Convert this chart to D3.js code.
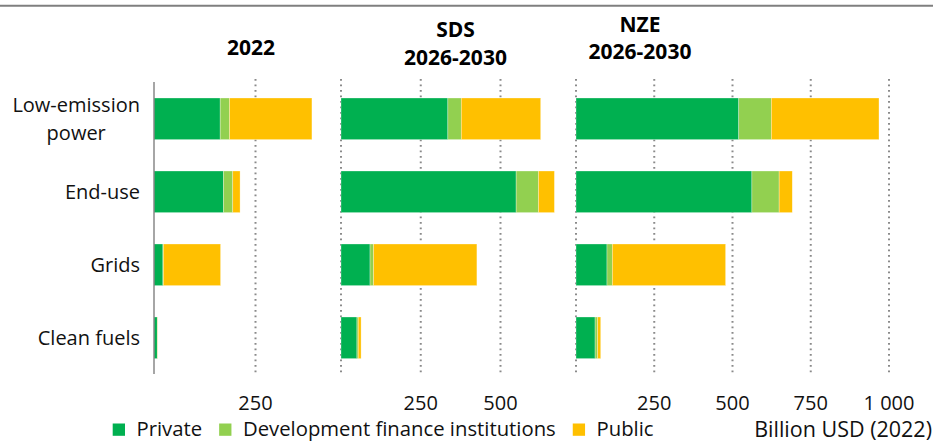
<!DOCTYPE html>
<html>
<head>
<meta charset="utf-8">
<script src="https://cdn.jsdelivr.net/npm/d3@7"></script>
<style>
  html, body { margin: 0; padding: 0; background: #fff; }
  svg { display: block; font-family: "Open Sans", sans-serif; }
</style>
</head>
<body>
<svg id="chart" width="933" height="444"></svg>
<script>
// categories (top to bottom)
const categories = ["Low-emission power", "End-use", "Grids", "Clean fuels"];
const categoryLines = [["Low-emission", "power"], ["End-use"], ["Grids"], ["Clean fuels"]];

// series
const seriesNames = ["Private", "Development finance institutions", "Public"];
const seriesColors = ["#00b050", "#92d050", "#ffc000"];

// scenario titles
const panelTitles = [["2022"], ["SDS", "2026-2030"], ["NZE", "2026-2030"]];

// billion USD (2022)
const private2022 = [163, 171, 22, 8];
const dfi2022     = [23, 23, 1, 0.5];
const public2022  = [203, 18, 141, 0.5];

const privateSDS = [335, 549, 91, 50];
const dfiSDS     = [42, 70, 11, 4];
const publicSDS  = [249, 50, 324, 9];

const privateNZE = [520, 562, 99, 61];
const dfiNZE     = [104, 87, 17, 8];
const publicNZE  = [344, 42, 362, 10];

// axis maxima and tick labels
const axisMax = [450, 700, 1100];
const ticks2022 = [250];
const ticksSDS = [250, 500];
const ticksNZE = [250, 500, 750, 1000];

const unitLabel = "Billion USD (2022)";

// build the panel tables
const panelValues = [
  [private2022, dfi2022, public2022],
  [privateSDS, dfiSDS, publicSDS],
  [privateNZE, dfiNZE, publicNZE]
];
const panelTicks = [ticks2022, ticksSDS, ticksNZE];

// layout of each panel (pixels)
const layout = [
  { x0: 154, x1: 336.7, titleX: 251, titleY: [55] },
  { x0: 341, x1: 564.3, titleX: 455.5, titleY: [37, 65] },
  { x0: 576, x1: 920.3, titleX: 640, titleY: [32, 59] }
];

const svg = d3.select("#chart");
const fmt = d3.formatLocale({ decimal: ".", thousands: " ", grouping: [3], currency: ["", ""] }).format(",d");

// top rule
svg.append("line")
  .attr("x1", 0).attr("x2", 933).attr("y1", 5.7).attr("y2", 5.7)
  .attr("stroke", "#7f7f7f").attr("stroke-width", 2);

const y = d3.scaleBand()
  .domain(categories)
  .range([82.3, 374.3])
  .paddingInner(0.43)
  .paddingOuter(0.215);

const stack = d3.stack().keys([0, 1, 2]);

panelValues.forEach((vals, p) => {
  const L = layout[p];
  const x = d3.scaleLinear().domain([0, axisMax[p]]).range([L.x0, L.x1]);
  const g = svg.append("g");

  // dotted gridlines (zero line dotted for 2nd and 3rd panels)
  const gridVals = p === 0 ? panelTicks[p] : [0].concat(panelTicks[p]);
  g.selectAll("line.grid")
    .data(gridVals)
    .enter().append("line")
    .attr("class", "grid")
    .attr("x1", d => x(d)).attr("x2", d => x(d))
    .attr("y1", 79).attr("y2", 374)
    .attr("stroke", "#8a8a8a")
    .attr("stroke-width", 2)
    .attr("stroke-dasharray", "1.8,3.7");

  // stacked bars
  const rows = categories.map((c, i) => ({ cat: c, 0: vals[0][i], 1: vals[1][i], 2: vals[2][i] }));
  const layers = stack(rows);
  g.selectAll("g.layer")
    .data(layers)
    .enter().append("g")
    .attr("fill", d => seriesColors[d.key])
    .selectAll("rect")
    .data(d => d)
    .enter().append("rect")
    .attr("x", d => x(d[0]))
    .attr("width", d => Math.max(0, x(d[1]) - x(d[0])))
    .attr("y", d => y(d.data.cat))
    .attr("height", y.bandwidth())
    .attr("stroke", "#ffffff")
    .attr("stroke-opacity", 0.5)
    .attr("stroke-width", 0.6);

  // tick labels
  g.selectAll("text.tick")
    .data(panelTicks[p])
    .enter().append("text")
    .attr("class", "tick")
    .attr("x", d => x(d))
    .attr("y", 410)
    .attr("text-anchor", "middle")
    .attr("font-size", 20)
    .attr("fill", "#111")
    .text(d => fmt(d));

  // panel title
  g.selectAll("text.title")
    .data(panelTitles[p])
    .enter().append("text")
    .attr("class", "title")
    .attr("x", L.titleX)
    .attr("y", (d, i) => L.titleY[i])
    .attr("text-anchor", "middle")
    .attr("font-size", 21)
    .attr("font-weight", "bold")
    .attr("fill", "#000")
    .text(d => d);

  // solid category axis on first panel
  if (p === 0) {
    g.append("line")
      .attr("x1", x(0)).attr("x2", x(0))
      .attr("y1", 82).attr("y2", 374)
      .attr("stroke", "#808080").attr("stroke-width", 1.4);
  }
});

// category labels, right aligned block, lines centred within it
const labelRight = 140;
categoryLines.forEach((lines, i) => {
  const c = y(categories[i]) + y.bandwidth() / 2;
  const texts = lines.map((t, j) => svg.append("text")
    .attr("font-size", 20)
    .attr("fill", "#111")
    .attr("y", c + 7 + (j - (lines.length - 1) / 2) * 28)
    .text(t));
  const w = d3.max(texts, t => t.node().getComputedTextLength());
  texts.forEach(t => t.attr("x", labelRight - w / 2).attr("text-anchor", "middle"));
});

// legend
let lx = 112.7;
seriesNames.forEach((name, i) => {
  svg.append("rect")
    .attr("x", lx).attr("y", 423.5)
    .attr("width", 12.3).attr("height", 12.3)
    .attr("fill", seriesColors[i]);
  const t = svg.append("text")
    .attr("x", lx + 23.8).attr("y", 436)
    .attr("font-size", 20.3)
    .attr("fill", "#111")
    .text(name);
  lx += 23.8 + t.node().getComputedTextLength() + 17;
});

// unit label
svg.append("text")
  .attr("x", 932).attr("y", 437)
  .attr("text-anchor", "end")
  .attr("font-size", 21.5)
  .attr("fill", "#111")
  .text(unitLabel);
</script>
</body>
</html>
